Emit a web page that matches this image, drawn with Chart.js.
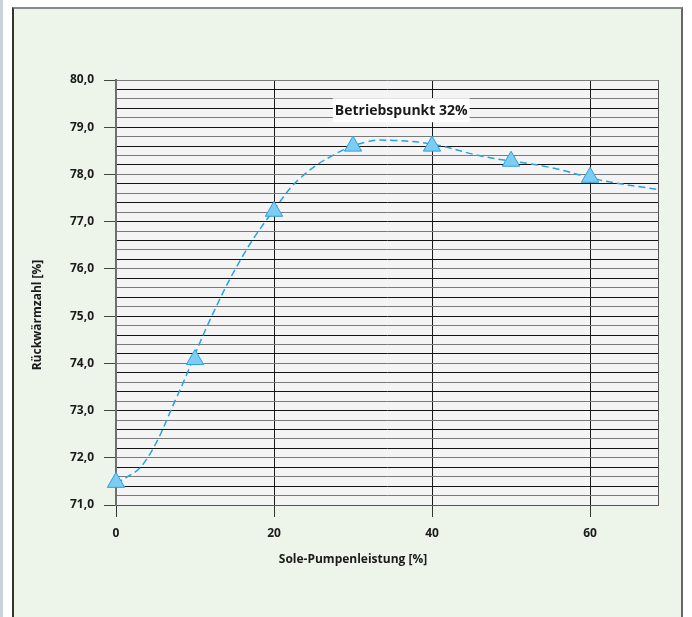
<!DOCTYPE html>
<html>
<head>
<meta charset="utf-8">
<script src="https://cdn.jsdelivr.net/npm/chart.js@4"></script>
<style>
  body { margin: 0; background: #fff; }
  #strip { position: absolute; left: 0; top: 0; width: 3px; height: 617px; background: #c9d3d9; }
  #panel { position: absolute; left: 12px; top: 7px; width: 671px; height: 620px; background: #edf4ea;
           border-left: 2px solid #333; border-top: 2px solid #8a8a8a; border-right: 2px solid #666; box-sizing: border-box; }
  #wrap { position: absolute; left: 0; top: 0; width: 692px; height: 617px; }
</style>
</head>
<body>
<div id="strip"></div>
<div id="panel"></div>
<div id="wrap"><canvas id="chart" width="692" height="617"></canvas></div>
<script>
// --- data ---
const pumpPower = [0, 10, 20, 30, 40, 50, 60];
const heatRatio = [71.48, 74.08, 77.22, 78.6, 78.6, 78.28, 77.94];
const trendPower = [0, 3.5, 7.7, 11.9, 16.1, 20.3, 23.3, 27.5, 31.7, 35.1, 40.1, 46.5, 54.9, 61.3, 68.6];
const trendRatio = [71.45, 71.88, 73.29, 74.92, 76.29, 77.32, 77.92, 78.41, 78.69, 78.72, 78.64, 78.38, 78.15, 77.88, 77.68];
const xTicks = [0, 20, 40, 60];
const yLabels = [71, 72, 73, 74, 75, 76, 77, 78, 79, 80];
const noteText = 'Betriebspunkt 32%';
const notePos = { x: 36.1, y: 79.36 };

const FONT = '"Open Sans", "DejaVu Sans", sans-serif';
const isMajor = v => Math.abs(v - Math.round(v)) < 1e-6 && yLabels.includes(Math.round(v));

// plot background, right edge, axis titles and the note
const decor = {
  id: 'decor',
  beforeDraw(chart) {
    const { ctx, chartArea: a } = chart;
    ctx.save();
    ctx.fillStyle = '#f4f4f4';
    ctx.fillRect(a.left, a.top, a.right - a.left, a.bottom - a.top);
    ctx.restore();
  },
  afterDatasetsDraw(chart) {
    const { ctx, chartArea: a } = chart;
    ctx.save();
    ctx.strokeStyle = '#555';
    ctx.lineWidth = 1;
    ctx.beginPath();
    ctx.moveTo(Math.round(a.right) + 0.5, a.top);
    ctx.lineTo(Math.round(a.right) + 0.5, a.bottom);
    ctx.stroke();
    ctx.restore();
  },
  afterDraw(chart) {
    const { ctx, scales } = chart;
    ctx.save();
    // axis titles (centred on the panel, not on the plot)
    ctx.fillStyle = '#1a1a1a';
    ctx.font = 'bold 12px ' + FONT;
    ctx.textAlign = 'center';
    ctx.textBaseline = 'middle';
    ctx.fillText('Sole-Pumpenleistung [%]', 353, 560);
    ctx.translate(38, 315);
    ctx.rotate(-Math.PI / 2);
    ctx.fillText('Rückwärmzahl [%]', 0, 0);
    ctx.restore();

    // Betriebspunkt label
    const px = scales.x.getPixelForValue(notePos.x);
    const py = scales.y.getPixelForValue(notePos.y);
    ctx.save();
    ctx.font = 'bold 14px ' + FONT;
    const w = ctx.measureText(noteText).width;
    ctx.fillStyle = '#fff';
    ctx.fillRect(px - w / 2 - 2, py - 12, w + 4, 24);
    ctx.fillStyle = '#1a1a1a';
    ctx.textAlign = 'center';
    ctx.textBaseline = 'middle';
    ctx.fillText(noteText, px, py + 1);
    ctx.restore();
  }
};

new Chart(document.getElementById('chart'), {
  type: 'scatter',
  data: {
    datasets: [
      {
        label: 'Trend',
        data: trendPower.map((x, i) => ({ x, y: trendRatio[i] })),
        showLine: true,
        borderColor: '#23a4e0',
        borderWidth: 1.5,
        borderDash: [7, 4],
        pointRadius: 0,
        tension: 0.4,
        order: 2
      },
      {
        label: 'Rückwärmzahl',
        data: pumpPower.map((x, i) => ({ x, y: heatRatio[i] })),
        pointStyle: 'triangle',
        pointRadius: 10,
        pointHoverRadius: 10,
        backgroundColor: '#7dcdf3',
        borderColor: '#2aa2dc',
        borderWidth: 1,
        clip: false,
        order: 1
      }
    ]
  },
  options: {
    responsive: false,
    animation: false,
    layout: { padding: { top: 80, right: 34, left: 0, bottom: 0 } },
    plugins: { legend: { display: false }, tooltip: { enabled: false } },
    scales: {
      x: {
        type: 'linear',
        min: 0,
        max: 68.6,
        afterFit: s => { s.height = 112; },
        afterBuildTicks: s => { s.ticks = xTicks.map(v => ({ value: v })); },
        ticks: {
          padding: 9,
          color: '#1a1a1a',
          font: { family: FONT, size: 12, weight: 'bold' }
        },
        grid: { color: '#1a1a1a', lineWidth: 1, tickLength: 12, tickColor: '#333' },
        border: { display: true, color: '#555', width: 1 }
      },
      y: {
        min: 71,
        max: 80,
        afterFit: s => { s.width = 116; },
        ticks: {
          stepSize: 0.2,
          autoSkip: false,
          padding: 10,
          color: '#1a1a1a',
          font: { family: FONT, size: 12, weight: 'bold' },
          callback: v => isMajor(v) ? Math.round(v).toFixed(1).replace('.', ',') : ''
        },
        grid: {
          color: c => (c.index % 2 ? '#7a7a7a' : '#141414'),
          lineWidth: 1,
          tickLength: 12,
          tickColor: c => (c.tick && isMajor(c.tick.value) ? '#444' : 'transparent')
        },
        border: { display: true, color: '#6f6f6f', width: 2 }
      }
    }
  },
  plugins: [decor]
});
</script>
</body>
</html>
